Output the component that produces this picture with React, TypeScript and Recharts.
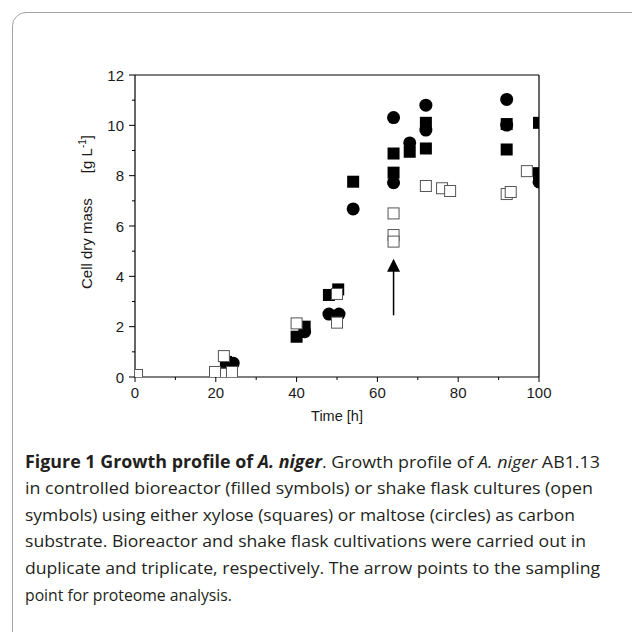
import React from "react";
import { ReferenceLine, Scatter, ScatterChart, XAxis, YAxis } from "recharts";

// [time (h), cell dry mass (g/L)]
const reactorXylose: [number, number][] = [
  [22.5, 0.6], [40, 1.6], [42, 2.0], [48, 3.26], [50.3, 3.48], [54, 7.76],
  [64, 8.88], [64, 8.12], [68, 8.95], [72, 10.1], [72, 9.08],
  [92, 10.05], [92, 9.04], [100, 10.1], [100, 8.1]
];
const reactorMaltose: [number, number][] = [
  [24.3, 0.55], [42, 1.8], [48, 2.5], [50.5, 2.5], [54, 6.68],
  [64, 10.31], [64, 7.72], [68, 9.3], [72, 10.8], [72, 9.81],
  [92, 11.03], [92, 10.01], [100, 7.75]
];
const flaskXylose: [number, number][] = [
  [0.5, 0.08], [22, 0.12], [19.8, 0.2], [24, 0.2], [22, 0.83],
  [40, 2.13], [50, 3.3], [50, 2.16], [64, 6.5], [64, 5.64], [64, 5.38],
  [72, 7.59], [76, 7.5], [78, 7.39], [92, 7.27], [93, 7.35], [97, 8.18]
];

const xTicks = [0, 10, 20, 30, 40, 50, 60, 70, 80, 90, 100];
const xLabels = [0, 20, 40, 60, 80, 100];
const yTicks = [0, 1, 2, 3, 4, 5, 6, 7, 8, 9, 10, 11, 12];
const yLabels = [0, 2, 4, 6, 8, 10, 12];
const samplingPoint = { t: 64, from: 2.45, to: 4.7 };

const toPoints = (rows: [number, number][]) => rows.map(([t, v]) => ({ t, v }));

const axisFont = "'Liberation Sans', Arial, sans-serif";
const ink = "#1a1a1a";

const FilledSquare = (p: any) => (
  <rect x={p.cx - 6} y={p.cy - 6} width={12} height={12} fill="#000" />
);
const FilledCircle = (p: any) => <circle cx={p.cx} cy={p.cy} r={6.5} fill="#000" />;
const OpenSquare = (p: any) => (
  <rect x={p.cx - 5.5} y={p.cy - 5.5} width={11} height={11} fill="#fff" stroke="#555" strokeWidth={1} />
);

const XTick = ({ x, y, payload }: any) => {
  const major = xLabels.includes(payload.value);
  return (
    <g>
      <line x1={x} x2={x} y1={y} y2={y + (major ? 5 : 3)} stroke="#000" />
      {major && (
        <text x={x} y={y + 21} textAnchor="middle" fontSize={15} fill={ink} fontFamily={axisFont}>
          {payload.value}
        </text>
      )}
    </g>
  );
};

const YTick = ({ x, y, payload }: any) => {
  const major = yLabels.includes(payload.value);
  return (
    <g>
      <line x1={x} x2={x - (major ? 6 : 3)} y1={y} y2={y} stroke="#000" />
      {major && (
        <text x={x - 11} y={y + 5.5} textAnchor="end" fontSize={15} fill={ink} fontFamily={axisFont}>
          {payload.value}
        </text>
      )}
    </g>
  );
};

const YTitle = ({ viewBox }: any) => {
  const cx = viewBox.x + 17;
  const cy = viewBox.y + viewBox.height / 2 - 14;
  return (
    <text
      x={cx}
      y={cy}
      transform={`rotate(-90, ${cx}, ${cy})`}
      textAnchor="middle"
      fontSize={15}
      fill={ink}
      fontFamily={axisFont}
      style={{ whiteSpace: "pre" }}
    >
      {"Cell dry mass      [g L"}
      <tspan dy={-6} fontSize={10}>-1</tspan>
      <tspan dy={6}>]</tspan>
    </text>
  );
};

const XTitle = ({ viewBox }: any) => (
  <text
    x={viewBox.x + viewBox.width / 2}
    y={viewBox.y + 44}
    textAnchor="middle"
    fontSize={14.5}
    fill={ink}
    fontFamily={axisFont}
  >
    Time [h]
  </text>
);

const Arrow = (p: any) => {
  const { x1, y1, y2 } = p;
  const bottom = Math.max(y1, y2);
  const tip = Math.min(y1, y2);
  return (
    <g>
      <line x1={x1} x2={x1} y1={bottom} y2={tip + 12} stroke="#000" strokeWidth={1.5} />
      <polygon points={`${x1},${tip} ${x1 - 6.5},${tip + 13} ${x1 + 6.5},${tip + 13}`} fill="#000" />
    </g>
  );
};

const captionLines = [
  { w: 575, parts: [
    { s: "Figure 1 Growth profile of ", b: true },
    { s: "A. niger", b: true, i: true },
    { s: ". Growth profile of " },
    { s: "A. niger", i: true },
    { s: " AB1.13" }
  ] },
  { w: 568, parts: [{ s: "in controlled bioreactor (filled symbols) or shake flask cultures (open" }] },
  { w: 550, parts: [{ s: "symbols) using either xylose (squares) or maltose (circles) as carbon" }] },
  { w: 561, parts: [{ s: "substrate. Bioreactor and shake flask cultivations were carried out in" }] },
  { w: 575, parts: [{ s: "duplicate and triplicate, respectively. The arrow points to the sampling" }] },
  { w: 207, parts: [{ s: "point for proteome analysis." }] }
];

function Caption() {
  return (
    <svg width={632} height={200} style={{ position: "absolute", left: 0, top: 440 }}>
      {captionLines.map((line, i) => (
        <text
          key={i}
          x={25}
          y={27.5 + i * 26.6}
          fontSize={17}
          fill="#231f20"
          fontFamily="'Open Sans', 'Noto Sans', sans-serif"
          textLength={line.w}
          lengthAdjust="spacingAndGlyphs"
          style={{ whiteSpace: "pre" }}
        >
          {line.parts.map((p: any, j) => (
            <tspan key={j} fontWeight={p.b ? 700 : 400} fontStyle={p.i ? "italic" : "normal"}>
              {p.s}
            </tspan>
          ))}
        </text>
      ))}
    </svg>
  );
}

export default function App() {
  return (
    <div style={{ position: "absolute", left: 0, top: 0, width: 632, height: 632, overflow: "hidden", background: "#fff" }}>
      <div
        style={{
          position: "absolute",
          left: 12,
          top: 12,
          width: 640,
          height: 700,
          border: "1px solid #a3a3a3",
          borderRadius: 14
        }}
      />
      <div style={{ position: "absolute", left: 0, top: 0 }}>
        <ScatterChart width={632} height={440} margin={{ top: 75, right: 93, bottom: 23, left: 75 }}>
          <XAxis
            type="number"
            dataKey="t"
            domain={[0, 100]}
            ticks={xTicks}
            interval={0}
            allowDataOverflow
            tickLine={false}
            tickSize={0}
            tickMargin={0}
            tick={<XTick />}
            height={40}
            axisLine={{ stroke: "#000", strokeWidth: 1.2 }}
            label={{ content: <XTitle /> }}
          />
          <YAxis
            type="number"
            dataKey="v"
            domain={[0, 12]}
            ticks={yTicks}
            interval={0}
            allowDataOverflow
            tickLine={false}
            tickSize={0}
            tickMargin={0}
            tick={<YTick />}
            width={60}
            axisLine={{ stroke: "#000", strokeWidth: 1.2 }}
            label={{ content: <YTitle /> }}
          />
          <ReferenceLine y={12} stroke="#000" strokeWidth={1.2} />
          <ReferenceLine x={100} stroke="#000" strokeWidth={1.2} />
          <Scatter data={toPoints(reactorXylose)} shape={FilledSquare} isAnimationActive={false} />
          <Scatter data={toPoints(reactorMaltose)} shape={FilledCircle} isAnimationActive={false} />
          <Scatter data={toPoints(flaskXylose)} shape={OpenSquare} isAnimationActive={false} />
          <ReferenceLine
            segment={[{ x: samplingPoint.t, y: samplingPoint.from }, { x: samplingPoint.t, y: samplingPoint.to }]}
            shape={Arrow}
          />
        </ScatterChart>
      </div>
      <Caption />
    </div>
  );
}
